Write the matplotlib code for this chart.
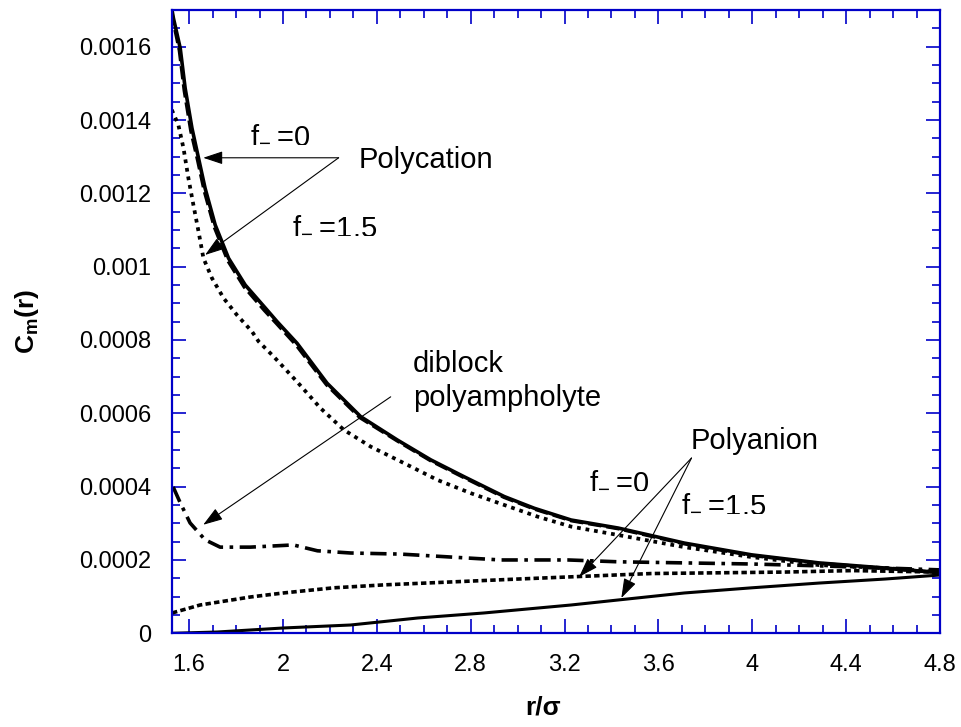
import numpy as np
import matplotlib
matplotlib.use("Agg")
import matplotlib.pyplot as plt
from matplotlib.ticker import MultipleLocator

plt.rcParams["font.family"] = ["Liberation Sans", "DejaVu Sans"]

# polycation, f_- = 0 (solid)
x_cat0 = [1.527, 1.533, 1.562, 1.583, 1.612, 1.640, 1.668, 1.711, 1.768, 1.839,
          1.925, 1.975, 2.060, 2.188, 2.331, 2.488, 2.630, 2.772, 2.943, 3.071,
          3.228, 3.429, 3.711, 3.997, 4.284, 4.566, 4.801]
y_cat0 = [0.001700, 0.001678, 0.001596, 0.001487, 0.001378, 0.001296, 0.001214,
          0.001114, 0.001023, 0.000950, 0.000887, 0.000850, 0.000791, 0.000682,
          0.000591, 0.000527, 0.000473, 0.000427, 0.000373, 0.000341, 0.000309,
          0.000287, 0.000246, 0.000214, 0.000192, 0.000178, 0.000165]

# dashed curve lying on top of the polycation f_- = 0 one
x_dash = [1.527, 1.531, 1.558, 1.579, 1.607, 1.636, 1.664, 1.707, 1.764, 1.835,
          1.920, 1.972, 2.056, 2.185, 2.328, 2.486, 2.628, 2.770, 2.941, 3.070,
          3.228, 3.430, 3.710, 4.000, 4.285, 4.565, 4.801]
y_dash = [0.001695, 0.001672, 0.001590, 0.001480, 0.001370, 0.001290, 0.001207,
          0.001108, 0.001017, 0.000944, 0.000881, 0.000845, 0.000786, 0.000678,
          0.000588, 0.000525, 0.000471, 0.000425, 0.000371, 0.000339, 0.000307,
          0.000285, 0.000244, 0.000212, 0.000191, 0.000177, 0.000166]

# polycation, f_- = 1.5 (dotted)
x_cat15 = [1.526, 1.554, 1.576, 1.597, 1.618, 1.640, 1.661, 1.697, 1.747, 1.804,
           1.868, 1.896, 1.960, 2.060, 2.160, 2.259, 2.374, 2.516, 2.659, 2.801,
           2.943, 3.086, 3.228, 3.429, 3.711, 3.997, 4.284, 4.566, 4.801]
y_cat15 = [0.001428, 0.001387, 0.001323, 0.001241, 0.001169, 0.001096, 0.001023,
           0.000969, 0.000914, 0.000868, 0.000823, 0.000796, 0.000755, 0.000686,
           0.000614, 0.000555, 0.000509, 0.000464, 0.000418, 0.000382, 0.000350,
           0.000318, 0.000291, 0.000268, 0.000235, 0.000208, 0.000186, 0.000178,
           0.000167]

# diblock polyampholyte (dash-dot)
x_dib = [1.532, 1.562, 1.604, 1.668, 1.732, 1.861, 2.044, 2.147, 2.288, 2.502,
         2.715, 2.929, 3.215, 3.429, 3.711, 3.997, 4.284, 4.566, 4.801]
y_dib = [0.000399, 0.000356, 0.000301, 0.000255, 0.000235, 0.000235, 0.000241,
         0.000225, 0.000219, 0.000216, 0.000208, 0.000200, 0.000200, 0.000195,
         0.000192, 0.000189, 0.000184, 0.000178, 0.000173]

# polyanion, f_- = 0 (dotted)
x_an0 = [1.527, 1.647, 1.861, 2.002, 2.215, 2.429, 2.715, 3.002, 3.228, 3.570,
         3.856, 4.138, 4.425, 4.801]
y_an0 = [0.0000554, 0.0000772, 0.0000990, 0.000110, 0.000124, 0.000132, 0.000140,
         0.000148, 0.000154, 0.000163, 0.000165, 0.000167, 0.000171, 0.000167]

# polyanion, f_- = 1.5 (solid)
x_an15 = [1.527, 1.720, 2.002, 2.288, 2.574, 2.856, 3.228, 3.429, 3.711, 3.997,
          4.284, 4.566, 4.801]
y_an15 = [0.0, 0.0000035, 0.0000145, 0.0000226, 0.0000417, 0.0000554, 0.0000772,
          0.0000909, 0.000110, 0.000124, 0.000137, 0.000148, 0.000159]

axis_blue = "#0000C8"

fig = plt.figure(figsize=(9.62, 7.27), dpi=100)
ax = fig.add_axes([0.1788, 0.1289, 0.7983, 0.8573])

ax.plot(x_dash, y_dash, color="black", lw=2.4, ls=(0, (4, 1.5)))
ax.plot(x_cat0, y_cat0, color="black", lw=2.6, solid_capstyle="round")
ax.plot(x_cat15, y_cat15, color="black", lw=2.7, ls=(0, (1, 1.3)))
ax.plot(x_dib, y_dib, color="black", lw=2.6, ls=(0, (4.5, 1.8, 1, 1.8)))
ax.plot(x_an0, y_an0, color="black", lw=2.6, ls=(0, (1.5, 0.9)))
ax.plot(x_an15, y_an15, color="black", lw=2.2)

ax.set_xlim(1.527, 4.8)
ax.set_ylim(0, 0.0017)
ax.set_xticks([1.6, 2, 2.4, 2.8, 3.2, 3.6, 4, 4.4, 4.8])
ax.set_xticklabels(["1.6", "2", "2.4", "2.8", "3.2", "3.6", "4", "4.4", "4.8"])
ax.set_yticks([0, 0.0002, 0.0004, 0.0006, 0.0008, 0.001, 0.0012, 0.0014, 0.0016])
ax.set_yticklabels(["0", "0.0002", "0.0004", "0.0006", "0.0008", "0.001",
                    "0.0012", "0.0014", "0.0016"])
ax.xaxis.set_minor_locator(MultipleLocator(0.1))
ax.yaxis.set_minor_locator(MultipleLocator(0.00005))

for s in ax.spines.values():
    s.set_color(axis_blue)
    s.set_linewidth(1.6)
ax.tick_params(which="both", direction="in", top=True, right=True,
               color=axis_blue, width=1.2)
ax.tick_params(which="major", length=10, labelsize=17)
ax.tick_params(which="minor", length=5.5)
ax.tick_params(axis="x", which="major", pad=15)
ax.tick_params(axis="y", which="major", pad=15)

ax.set_ylabel("C$_{\\mathregular{m}}$(r)", fontsize=19, fontweight="bold")
ax.set_xlabel("r/\u03c3", fontsize=19, fontweight="bold")
ax.yaxis.set_label_coords(-0.17, 0.5)
ax.xaxis.set_label_coords(0.483, -0.1)

arrow = dict(arrowstyle="-|>,head_length=1.2,head_width=0.4", color="black",
             lw=0.8, shrinkA=0, shrinkB=0)
fs = 21
sub = "f$_{\\mathregular{-}}$\u2009="

# Polycation
ax.text(2.322, 0.001291, "Polycation", fontsize=fs, va="center", ha="left")
ax.annotate("", xy=(1.660, 0.001297), xytext=(2.237, 0.001297), arrowprops=arrow)
ax.annotate("", xy=(1.668, 0.001032), xytext=(2.237, 0.001297), arrowprops=arrow)
ax.text(1.861, 0.001340, sub + "0", fontsize=fs, va="baseline")
ax.text(2.040, 0.001092, sub + "1.5", fontsize=fs, va="baseline")

# diblock
ax.text(2.553, 0.000713, "diblock", fontsize=fs, va="baseline")
ax.text(2.553, 0.000620, "polyampholyte", fontsize=fs, va="baseline")
ax.annotate("", xy=(1.660, 0.000296), xytext=(2.459, 0.000645), arrowprops=arrow)

# Polyanion
ax.text(3.737, 0.000503, "Polyanion", fontsize=fs, va="baseline")
ax.annotate("", xy=(3.262, 0.000154), xytext=(3.741, 0.000478), arrowprops=arrow)
ax.annotate("", xy=(3.442, 0.0000963), xytext=(3.741, 0.000478), arrowprops=arrow)
ax.text(3.305, 0.000396, sub + "0", fontsize=fs, va="baseline")
ax.text(3.698, 0.000334, sub + "1.5", fontsize=fs, va="baseline")

fig.savefig("out.png", dpi=100)
